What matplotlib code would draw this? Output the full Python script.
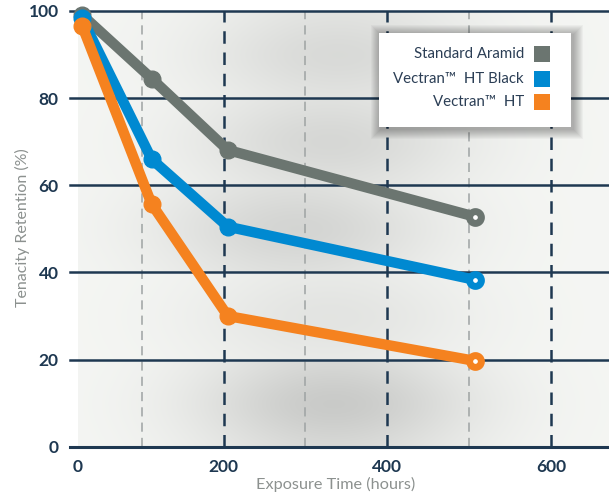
import numpy as np
import matplotlib
matplotlib.use("Agg")
import matplotlib.pyplot as plt
from matplotlib.patches import Rectangle

# data
series = ["Standard Aramid", "Vectran\u2122  HT Black", "Vectran\u2122  HT"]
colors = ["#6b7570", "#0089d1", "#f5821f"]
hours = [27, 112, 205, 507]
aramid = [99.1, 84.5, 68.1, 52.8]
ht_black = [98.3, 66.0, 50.5, 38.3]
ht = [96.6, 55.7, 30.0, 19.7]
values = [aramid, ht_black, ht]

y_ticks = [0, 20, 40, 60, 80, 100]
x_ticks = [22, 200, 400, 600]
x_ticklabels = ["0", "200", "400", "600"]
light_grid = [100, 300, 500]
dark_grid = [200, 400, 600]

navy = "#1e3851"
label_grey = "#8c918f"

plt.rcParams["font.family"] = ["Lato", "DejaVu Sans"]

W, H = 609, 497
fig = plt.figure(figsize=(W / 100, H / 100), dpi=100)
fig.patch.set_facecolor("white")


def fx(x):
    return x / W


def fy(y):
    return 1 - y / H


ax = fig.add_axes([fx(78), fy(446.7), fx(609) - fx(78), fy(11) - fy(446.7)])
xmin, xmax = 22, 671
ax.set_xlim(xmin, xmax)
ax.set_ylim(0, 100)

# shaded background bands
xs = np.linspace(xmin, xmax, 400)
strength = [0.17, 0.07, 0.13, 0.12, 0.11]
centres = [335, 330, 290, 330, 340]
for i in range(5):
    y0 = i * 20
    ys = np.linspace(0, 1, 60)
    X, Y = np.meshgrid(xs, ys)
    vert = 0.55 + 0.45 * np.exp(-((Y - 0.5) / 0.45) ** 2)
    shade = 0.965 - strength[i] * vert * np.exp(-((X - centres[i]) / 170) ** 2)
    rgb = np.dstack([shade * 0.995, shade, shade * 0.99])
    ax.imshow(rgb, extent=[xmin, xmax, y0, y0 + 19.55], origin="lower",
              aspect="auto", zorder=0, interpolation="bilinear")

# grid
for g in light_grid:
    ax.plot([g, g], [0, 100], color="#9ea3a3", lw=1.1, ls=(0, (6, 4)), zorder=1)
for g in dark_grid:
    ax.plot([g, g], [0, 100], color=navy, lw=1.8, ls=(0, (5, 3.5)), zorder=1)
for t in y_ticks:
    ax.plot([-0.015, 1], [t / 100, t / 100], transform=ax.transAxes,
            color=navy, lw=1.8 if t else 2.2, clip_on=False, zorder=2)

# series
for name, vals, c in zip(series, values, colors):
    ax.plot(hours, vals, color=c, lw=7.5, solid_capstyle="round",
            solid_joinstyle="round", zorder=4, clip_on=False)
    ax.plot(hours[:-1], vals[:-1], "o", color=c, ms=12, zorder=5, clip_on=False)
    ax.plot(hours[-1:], vals[-1:], "o", mfc="white", mec=c, mew=5, ms=8.5,
            zorder=5, clip_on=False)

for s in ax.spines.values():
    s.set_visible(False)
ax.set_xticks(x_ticks)
ax.set_xticklabels(x_ticklabels)
ax.set_yticks(y_ticks)
ax.tick_params(length=0, colors=navy, labelsize=12.5, pad=9)
for lab in ax.get_xticklabels() + ax.get_yticklabels():
    lab.set_fontweight("bold")
ax.tick_params(axis="y", pad=14)

fig.text(fx(336), fy(484), "Exposure Time (hours)", color=label_grey,
         fontsize=11.7, ha="center", va="center")
fig.text(fx(22), fy(228), "Tenacity Retention (%)", color=label_grey,
         fontsize=11.5, ha="center", va="center", rotation=90)

# legend box with soft shadow
bx0, by0, bx1, by1 = 379, 33, 571, 127
for k in range(10, 0, -1):
    fig.patches.append(Rectangle((fx(bx0 - k + 2), fy(by1 + k + 2)),
                                 fx(bx1 - bx0 + 2 * k), fy(by0) - fy(by1) + 2 * k / H,
                                 transform=fig.transFigure, color="black",
                                 alpha=0.03, lw=0, zorder=10))
fig.patches.append(Rectangle((fx(bx0), fy(by1)), fx(bx1 - bx0), fy(by0) - fy(by1),
                             transform=fig.transFigure, color="white", lw=0, zorder=11))
rows = [54, 79, 102]
for name, c, ry in zip(series, colors, rows):
    fig.text(fx(524), fy(ry), name, color="#2b3e55", fontsize=10.8,
             ha="right", va="center", zorder=12)
    fig.patches.append(Rectangle((fx(534), fy(ry + 8)), fx(16), 16 / H,
                                 transform=fig.transFigure, color=c, lw=0, zorder=12))

fig.savefig("out.png", dpi=100)
